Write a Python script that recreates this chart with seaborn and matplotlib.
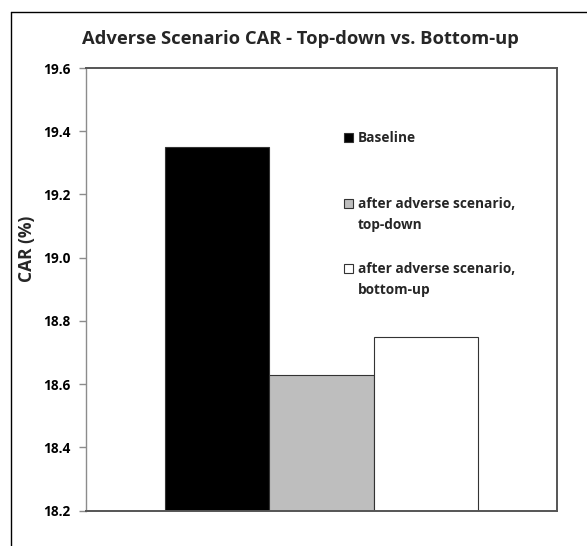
import matplotlib
matplotlib.use("Agg")
import matplotlib.pyplot as plt
from matplotlib.lines import Line2D
from matplotlib.patches import Rectangle
import numpy as np
import pandas as pd
import seaborn as sns

# Chart data
series = ["Baseline",
          "after adverse scenario,\ntop-down",
          "after adverse scenario,\nbottom-up"]
car_values = [19.35, 18.63, 18.75]
bar_colors = ["#000000", "#BEBEBE", "#FFFFFF"]
y_ticks = [18.2, 18.4, 18.6, 18.8, 19.0, 19.2, 19.4, 19.6]

df = pd.DataFrame({"group": [""] * len(series), "series": series, "CAR": car_values})

sns.set_theme(style="white")
plt.rcParams["font.family"] = ["Open Sans", "DejaVu Sans"]
plt.rcParams["font.weight"] = "bold"

W, H = 587, 546
fig = plt.figure(figsize=(W / 100, H / 100), dpi=100)
fig.patch.set_facecolor("white")


def fx(px):
    return px / W


def fy(py):
    return 1 - py / H


ax = fig.add_axes([fx(86), fy(510.7), fx(557) - fx(86), fy(68) - fy(510.7)])

sns.barplot(data=df, x="group", y="CAR", hue="series", hue_order=series,
            palette=bar_colors, width=0.665, legend=False, ax=ax,
            edgecolor="#333333", linewidth=0.8, saturation=1)

ax.set_ylim(18.2, 19.6)
ax.set_yticks(y_ticks)
ax.set_yticklabels([f"{v:.1f}" for v in y_ticks], fontsize=9.8, fontweight="bold")
ax.set_xticks([])
ax.set_xlabel("")
ax.set_ylabel("CAR (%)", fontsize=12.5, fontweight="bold")
ax.yaxis.set_label_coords(fx(24) - fx(86), (fy(249) - fy(510.7)) / (fy(68) - fy(510.7)))
ax.tick_params(axis="y", left=True, length=5, width=1, color="#8c8c8c", pad=6,
               labelcolor="black")

for side in ["top", "right", "bottom"]:
    ax.spines[side].set_color("#555555")
    ax.spines[side].set_linewidth(1.4)
ax.spines["left"].set_color("#8c8c8c")
ax.spines["left"].set_linewidth(1.0)

# Title
fig.text(fx(300), fy(38.5), "Adverse Scenario CAR - Top-down vs. Bottom-up",
         ha="center", va="center", fontsize=13.2, fontweight="bold")

# Legend: swatch + label for each series
legend_rows = [137.5, 203.5, 268.5]
for label, color, yc in zip(series, bar_colors, legend_rows):
    fig.patches.append(Rectangle((fx(344), fy(yc + 4.5)), fx(9), 9 / H,
                                 transform=fig.transFigure, facecolor=color,
                                 edgecolor="#333333", linewidth=0.8))
    fig.text(fx(358), fy(yc - 7), label, ha="left", va="top",
             fontsize=9.8, fontweight="bold", linespacing=1.7)

# Outer frame (top and left edges)
fig.add_artist(Line2D([fx(10.5), fx(10.5)], [0, fy(11.5)], transform=fig.transFigure,
                      color="black", linewidth=1.0))
fig.add_artist(Line2D([fx(10.5), 1], [fy(11.5), fy(11.5)], transform=fig.transFigure,
                      color="black", linewidth=1.0))

fig.savefig("out.png", dpi=100, facecolor="white")
